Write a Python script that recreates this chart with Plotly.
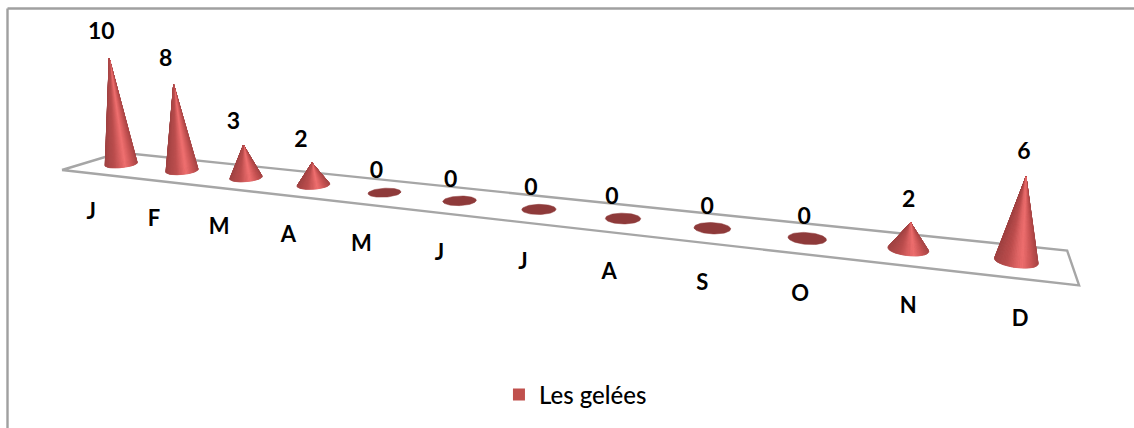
import numpy as np
import plotly.graph_objects as go

# Frost days per month
MONTHS = ["J", "F", "M", "A", "M", "J", "J", "A", "S", "O", "N", "D"]
GELEES = [10, 8, 3, 2, 0, 0, 0, 0, 0, 0, 2, 6]
SERIES_NAME = "Les gelées"

WIDTH, HEIGHT = 1134, 428

# Three-point perspective for the tilted 3-D floor
ORIGIN = np.array([62.0, 170.0])          # front-left floor corner
VP_MONTH = np.array([-2291.0, -97.0])     # vanishing point along the months
VP_DEPTH = np.array([948.0, -97.0])       # vanishing point across the floor
VP_VALUE = np.array([567.0, 4078.0])      # vanishing point of the vertical axis
K_MONTH, K_DEPTH, K_VALUE = -0.02515, 0.07, -0.00268
CONE_RADIUS = 0.195
BASE_DEPTH = 0.5


def project(t, d, v):
    """Map (month position, floor depth, value) to chart coordinates."""
    w = 1 + K_MONTH * t + K_DEPTH * d + K_VALUE * v
    x = (ORIGIN[0] + K_MONTH * t * VP_MONTH[0] + K_DEPTH * d * VP_DEPTH[0] + K_VALUE * v * VP_VALUE[0]) / w
    y = (ORIGIN[1] + K_MONTH * t * VP_MONTH[1] + K_DEPTH * d * VP_DEPTH[1] + K_VALUE * v * VP_VALUE[1]) / w
    return x, y


# Shading across a cone, from its left silhouette to its right one
SHADE_POS = [0.0, 0.3, 0.62, 0.85, 1.0]
SHADE_RGB = np.array([[160, 66, 66], [188, 78, 78], [240, 112, 112], [200, 84, 84], [168, 70, 70]])


def shade(p):
    rgb = [np.interp(p, SHADE_POS, SHADE_RGB[:, k]) for k in range(3)]
    return "rgb({:.0f},{:.0f},{:.0f})".format(*rgb)


fig = go.Figure()

# Floor outline
fx, fy = zip(*[project(t, d, 0) for t, d in [(0, 0), (12, 0), (12, 1), (0, 1), (0, 0)]])
fig.add_trace(go.Scatter(x=fx, y=fy, mode="lines", line=dict(color="#a6a6a6", width=2.4),
                         showlegend=False, hoverinfo="skip"))

angles = np.linspace(0, 2 * np.pi, 73)
label_xy, month_xy = [], []
for i, value in enumerate(GELEES):
    t = i + 0.5
    bx, by = project(t + CONE_RADIUS * np.cos(angles), BASE_DEPTH + CONE_RADIUS * np.sin(angles), 0)
    cx, cy = project(t, BASE_DEPTH, 0)
    ax, ay = project(t, BASE_DEPTH, value)

    base_color = "#8e3a3a" if value == 0 else "#b04a4a"
    fig.add_trace(go.Scatter(x=bx, y=by, mode="lines", fill="toself", fillcolor=base_color,
                             line=dict(color=base_color, width=0.5), showlegend=False, hoverinfo="skip"))
    if value > 0:
        xmin, xmax = bx.min(), bx.max()
        # back facets first so that the front of the cone covers them
        order = np.argsort(-np.sin((angles[:-1] + angles[1:]) / 2))
        for k in order:
            p = ((bx[k] + bx[k + 1]) / 2 - xmin) / (xmax - xmin)
            col = shade(p)
            fig.add_trace(go.Scatter(x=[ax, bx[k], bx[k + 1], ax], y=[ay, by[k], by[k + 1], ay],
                                     mode="lines", fill="toself", fillcolor=col,
                                     line=dict(color=col, width=0.6), showlegend=False, hoverinfo="skip"))
    label_xy.append((ax, ay))
    month_xy.append((cx, cy))

# Value labels above each apex, a little higher on the taller cones
VALUE_NUDGE_X = [-8, -8, -10, -11, -8, -9, -8, -11, -5, -3, -2, -2]
fig.add_trace(go.Scatter(
    x=[p[0] + n for p, n in zip(label_xy, VALUE_NUDGE_X)],
    y=[p[1] - 20 - 0.6 * v for p, v in zip(label_xy, GELEES)],
    text=[str(v) for v in GELEES], mode="text", textposition="middle center",
    textfont=dict(family="Lato", size=23, color="#000000", weight=700),
    showlegend=False, hoverinfo="skip"))

# Month labels in front of the floor
MONTH_NUDGE_X = [-1, -2, -4, -5, -6, -6, -5, -6, -5, -5, -1, 0]
n = len(MONTHS) - 1
fig.add_trace(go.Scatter(
    x=[p[0] - 29 + 33 * i / n + d for i, (p, d) in enumerate(zip(month_xy, MONTH_NUDGE_X))],
    y=[p[1] + 49 + 10 * i / n for i, p in enumerate(month_xy)],
    text=MONTHS, mode="text", textposition="middle center",
    textfont=dict(family="Lato", size=22, color="#000000", weight=700),
    showlegend=False, hoverinfo="skip"))

# Legend entry for the series
fig.add_trace(go.Scatter(x=[None], y=[None], mode="markers", name=SERIES_NAME,
                         marker=dict(symbol="square", size=20, color="#c0504d")))

frame = dict(type="line", xref="paper", yref="paper", line=dict(color="#a0a0a0", width=2.4))
fig.update_layout(
    width=WIDTH, height=HEIGHT, margin=dict(l=0, r=0, t=0, b=0),
    paper_bgcolor="white", plot_bgcolor="white",
    xaxis=dict(range=[0, WIDTH], visible=False, fixedrange=True),
    yaxis=dict(range=[HEIGHT, 0], visible=False, fixedrange=True),
    showlegend=True,
    legend=dict(x=0.44, y=0.13, xanchor="left", yanchor="top", bgcolor="rgba(0,0,0,0)",
                font=dict(family="Lato", size=24, color="#000000", weight=500), itemsizing="constant"),
    shapes=[
        dict(frame, x0=7.5 / WIDTH, x1=7.5 / WIDTH, y0=0, y1=1 - 8.5 / HEIGHT),
        dict(frame, x0=7.5 / WIDTH, x1=1, y0=1 - 8.5 / HEIGHT, y1=1 - 8.5 / HEIGHT),
    ],
)
fig.write_html("out.html", config=dict(displayModeBar=False))
